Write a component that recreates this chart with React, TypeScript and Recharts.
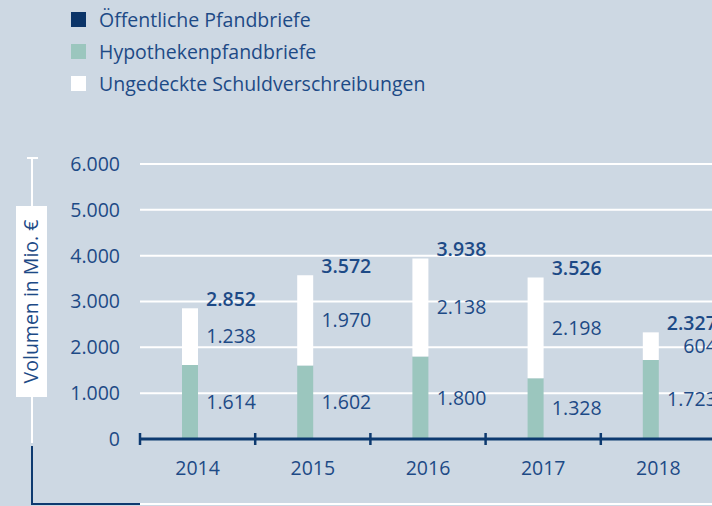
import { BarChart, Bar, XAxis, YAxis, CartesianGrid, LabelList } from "recharts"

const years = ["2014", "2015", "2016", "2017", "2018"]
const oeffentliche = [0, 0, 0, 0, 0]
const hypotheken = [1614, 1602, 1800, 1328, 1723]
const ungedeckt = [1238, 1970, 2138, 2198, 604]
const totals = [2852, 3572, 3938, 3526, 2327]
const yTicks = [0, 1000, 2000, 3000, 4000, 5000, 6000]

const legendItems = [
  { label: "Öffentliche Pfandbriefe", color: "#0b3468" },
  { label: "Hypothekenpfandbriefe", color: "#9bc6be" },
  { label: "Ungedeckte Schuldverschreibungen", color: "#ffffff" },
]

const BG = "#cdd8e3"
const TEXT = "#1d4a86"
const NAVY = "#0d3a70"
const FONT = "'Open Sans', sans-serif"
const FS = 19.5

const fmt = (n: number) => String(n).replace(/\B(?=(\d{3})+(?!\d))/g, ".")

const data = years.map((year, i) => ({
  year,
  oef: oeffentliche[i],
  hyp: hypotheken[i],
  ung: ungedeckt[i],
  total: totals[i],
}))

function SegmentLabel(props: any) {
  const vb = props.viewBox ?? props
  const { x, y, width, height } = vb
  return (
    <text x={x + width + 58} y={y + height / 2} dy="0.35em" textAnchor="end" fill={TEXT} fontSize={FS} fontFamily={FONT}>
      {fmt(props.value)}
    </text>
  )
}

function TotalLabel(props: any) {
  const vb = props.viewBox ?? props
  const { x, y, width } = vb
  return (
    <text x={x + width + 58} y={y - 9} dy="0.35em" textAnchor="end" fill={TEXT} fontSize={FS} fontWeight={600} fontFamily={FONT}>
      {fmt(props.value)}
    </text>
  )
}

function YearTick(props: any) {
  const { x, y, payload } = props
  const off = payload.offset ?? 0
  return (
    <g>
      <line x1={x - off} x2={x - off} y1={y - 6} y2={y + 6} stroke={NAVY} strokeWidth={2.5} />
      <text x={x} y={y + 36} textAnchor="middle" fill={TEXT} fontSize={FS} fontFamily={FONT}>
        {payload.value}
      </text>
    </g>
  )
}

export default function App() {
  return (
    <div
      style={{
        position: "absolute",
        left: 0,
        top: 0,
        width: 712,
        height: 506,
        overflow: "hidden",
        background: BG,
        fontFamily: FONT,
      }}
    >
      {/* legend */}
      {legendItems.map((item, i) => (
        <div key={i} style={{ position: "absolute", left: 71, top: 6 + i * 32, height: 26, display: "flex", alignItems: "center" }}>
          <div style={{ width: 15, height: 15, background: item.color }} />
          <span style={{ marginLeft: 13, fontSize: FS, color: TEXT }}>{item.label}</span>
        </div>
      ))}

      {/* axis title bracket */}
      <svg width={712} height={506} style={{ position: "absolute", left: 0, top: 0 }}>
        <line x1={32} x2={32} y1={158} y2={443} stroke="#fff" strokeWidth={2} />
        <line x1={27} x2={38} y1={158} y2={158} stroke="#fff" strokeWidth={2} />
        <rect x={16} y={206} width={31} height={191} fill="#fff" />
        <text
          x={31.5}
          y={301.5}
          transform="rotate(-90 31.5 301.5)"
          textAnchor="middle"
          dy="0.35em"
          fill={TEXT}
          fontSize={FS}
          fontFamily={FONT}
        >
          Volumen in Mio. €
        </text>
        <polyline points="32,446 32,504 140,504" fill="none" stroke={NAVY} strokeWidth={2} />
        <line x1={140} x2={712} y1={504} y2={504} stroke="#fff" strokeWidth={2} />
      </svg>

      <div style={{ position: "absolute", left: 0, top: 0 }}>
        <BarChart
          width={760}
          height={506}
          data={data}
          margin={{ top: 164, right: 44, bottom: 0, left: 0 }}
          barGap={0}
          barSize={16}
        >
          <CartesianGrid horizontal vertical={false} stroke="#ffffff" strokeWidth={2} />
          <YAxis
            width={140}
            domain={[0, 6000]}
            ticks={yTicks}
            axisLine={false}
            tickLine={false}
            tickSize={0}
            tickMargin={20}
            tickFormatter={fmt}
            tick={{ fill: TEXT, fontSize: FS, fontFamily: FONT }}
          />
          <XAxis
            dataKey="year"
            height={67}
            interval={0}
            axisLine={{ stroke: NAVY, strokeWidth: 3 }}
            tickLine={false}
            tickSize={0}
            tickMargin={0}
            tick={<YearTick />}
          />
          <Bar dataKey="hyp" stackId="a" fill="#9bc6be" isAnimationActive={false}>
            <LabelList dataKey="hyp" content={<SegmentLabel />} />
          </Bar>
          <Bar dataKey="ung" stackId="a" fill="#ffffff" isAnimationActive={false}>
            <LabelList dataKey="ung" content={<SegmentLabel />} />
            <LabelList dataKey="total" content={<TotalLabel />} />
          </Bar>
          <Bar dataKey="oef" stackId="b" fill="#0b3468" isAnimationActive={false} />
        </BarChart>
      </div>
    </div>
  )
}
